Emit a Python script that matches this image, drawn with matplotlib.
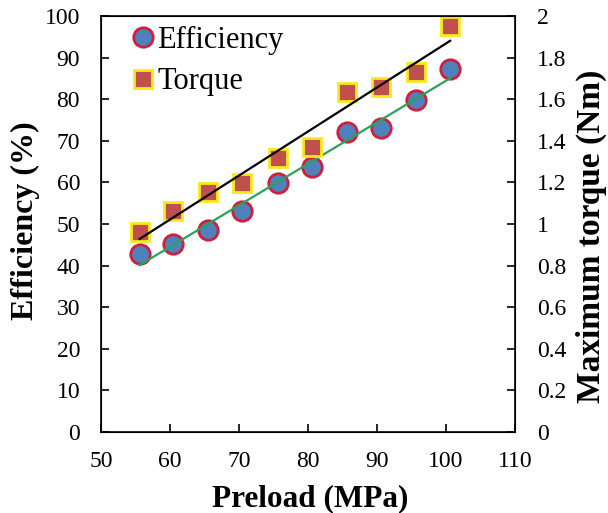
import numpy as np
import matplotlib.pyplot as plt

plt.rcParams['font.family'] = ['Liberation Serif', 'DejaVu Serif']

# preload (MPa)
preload = [55.6, 60.5, 65.5, 70.5, 75.6, 80.6, 85.6, 90.6, 95.6, 100.6]
# efficiency (%)
efficiency = [42.8, 45.2, 48.6, 53.0, 59.8, 63.7, 72.1, 73.0, 79.8, 87.2]
# maximum torque (Nm)
torque = [0.96, 1.06, 1.155, 1.196, 1.317, 1.37, 1.635, 1.66, 1.73, 1.95]

fig = plt.figure(figsize=(6.08, 5.13), dpi=100)
ax1 = fig.add_axes([0.166, 0.158, 0.681, 0.811])
ax2 = ax1.twinx()

x = np.array(preload)

# linear trend lines
pe = np.polyfit(x, efficiency, 1)
pt = np.polyfit(x, torque, 1)

h1, = ax1.plot(x, efficiency, 'o', ms=14, mfc='#4f81bd', mec='#d01f3c', mew=2,
               label='Efficiency', zorder=2)
ax1.plot(x, np.polyval(pe, x), color='#2aa25a', lw=1.6, zorder=3)

h2, = ax2.plot(x, torque, 's', ms=13.5, mfc='#c0504d', mec='#f7ea1c', mew=2,
               label='Torque', zorder=2)
ax2.plot(x, np.polyval(pt, x), color='black', lw=1.6, zorder=3)

ax1.set_xlim(50, 110)
ax1.set_ylim(0, 100)
ax2.set_ylim(0, 2)
ax1.set_xticks(range(50, 111, 10))
ax1.set_yticks(range(0, 101, 10))
ax2.set_yticks([0, 0.2, 0.4, 0.6, 0.8, 1, 1.2, 1.4, 1.6, 1.8, 2])
ax2.set_yticklabels(['0', '0.2', '0.4', '0.6', '0.8', '1', '1.2', '1.4', '1.6', '1.8', '2'])

ax1.tick_params(axis='y', direction='in', length=6, width=1.2, labelsize=17, pad=15)
ax1.tick_params(axis='x', direction='in', length=6, width=1.2, labelsize=17, pad=14)
ax2.tick_params(axis='y', direction='in', length=6, width=1.2, labelsize=17, pad=16)
for s in ax1.spines.values():
    s.set_linewidth(1.2)

ax1.set_xlabel('Preload (MPa)', fontsize=22.5, fontweight='bold')
ax1.set_ylabel('Efficiency (%)', fontsize=23, fontweight='bold')
ax2.set_ylabel('Maximum torque (Nm)', fontsize=24, fontweight='bold')
ax1.xaxis.set_label_coords(0.505, -0.125)
ax1.yaxis.set_label_coords(-0.147, 0.507)
ax2.yaxis.set_label_coords(1.147, 0.471)

ax1.legend(handles=[h1, h2], loc='upper left', frameon=False, fontsize=22,
           handletextpad=0.0, handlelength=0.9, labelspacing=0.4,
           borderaxespad=0.0, bbox_to_anchor=(0.04, 1.005))

fig.savefig('out.png', dpi=100)
